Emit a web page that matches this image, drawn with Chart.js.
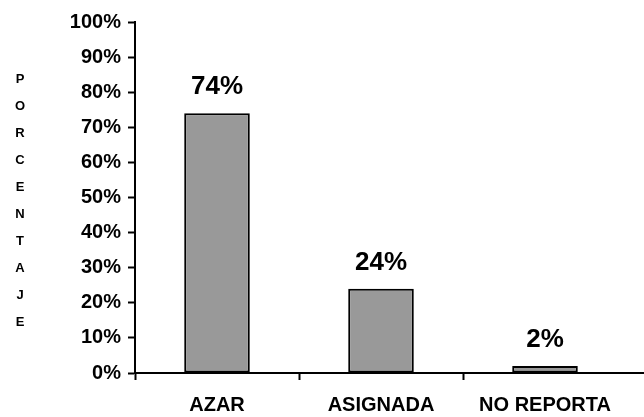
<!DOCTYPE html>
<html>
<head>
<meta charset="utf-8">
<script src="https://cdn.jsdelivr.net/npm/chart.js@4"></script>
<style>
  html, body { margin: 0; padding: 0; background: #fff; }
  #wrap { width: 644px; height: 417px; }
</style>
</head>
<body>
<div id="wrap"><canvas id="chart" width="644" height="417"></canvas></div>
<script>
// data
const categories = ["AZAR", "ASIGNADA", "NO REPORTA"];
const values = [74, 24, 2];
const yTicks = [0, 10, 20, 30, 40, 50, 60, 70, 80, 90, 100];
const yTitle = "PORCENTAJE";

const FONT = "'Liberation Sans', Arial, sans-serif";

// value labels above the bars + stacked axis title + axis line running to the edge
const extras = {
  id: "extras",
  afterDatasetsDraw(chart) {
    const ctx = chart.ctx;
    const area = chart.chartArea;
    ctx.save();
    ctx.fillStyle = "#000";
    ctx.font = "bold 26px " + FONT;
    ctx.textAlign = "center";
    ctx.textBaseline = "alphabetic";
    chart.getDatasetMeta(0).data.forEach((bar, i) => {
      ctx.fillText(values[i] + "%", bar.x, bar.y - 19);
    });

    // x axis line continues past the last category
    ctx.strokeStyle = "#000";
    ctx.lineWidth = 2;
    ctx.beginPath();
    ctx.moveTo(area.right, area.bottom);
    ctx.lineTo(chart.width, area.bottom);
    ctx.stroke();

    // letters of the y title stacked vertically
    ctx.font = "bold 13px " + FONT;
    ctx.textBaseline = "middle";
    const step = 27;
    const mid = (area.top + area.bottom) / 2 + 3;
    const start = mid - step * (yTitle.length - 1) / 2;
    for (let i = 0; i < yTitle.length; i++) {
      ctx.fillText(yTitle[i], 20, start + i * step);
    }
    ctx.restore();
  }
};

new Chart(document.getElementById("chart"), {
  type: "bar",
  data: {
    labels: categories,
    datasets: [{
      data: values,
      backgroundColor: "#999999",
      borderColor: "#000",
      borderWidth: 2,
      borderSkipped: false,
      categoryPercentage: 1,
      barPercentage: 0.4
    }]
  },
  options: {
    responsive: false,
    animation: false,
    layout: { padding: { top: 22, right: 17, left: 0, bottom: 0 } },
    plugins: {
      legend: { display: false },
      tooltip: { enabled: false }
    },
    scales: {
      x: {
        grid: {
          drawOnChartArea: false,
          tickLength: 7,
          tickWidth: 2,
          tickColor: c => (c.type === "tick" ? "#000" : "rgba(0,0,0,0)")
        },
        border: { color: "#000", width: 2 },
        ticks: {
          color: "#000",
          font: { family: FONT, size: 20, weight: "bold" },
          padding: 13,
          maxRotation: 0,
          autoSkip: false
        },
        afterFit: s => { s.height = 44; }
      },
      y: {
        min: 0,
        max: 100,
        afterBuildTicks: s => { s.ticks = yTicks.map(v => ({ value: v })); },
        grid: {
          drawOnChartArea: false,
          tickLength: 7,
          tickWidth: 2,
          tickColor: "#000"
        },
        border: { color: "#000", width: 2 },
        ticks: {
          color: "#000",
          font: { family: FONT, size: 20, weight: "bold" },
          padding: 7,
          callback: v => v + "%"
        },
        afterFit: s => { s.width = 135; }
      }
    }
  },
  plugins: [extras]
});
</script>
</body>
</html>
